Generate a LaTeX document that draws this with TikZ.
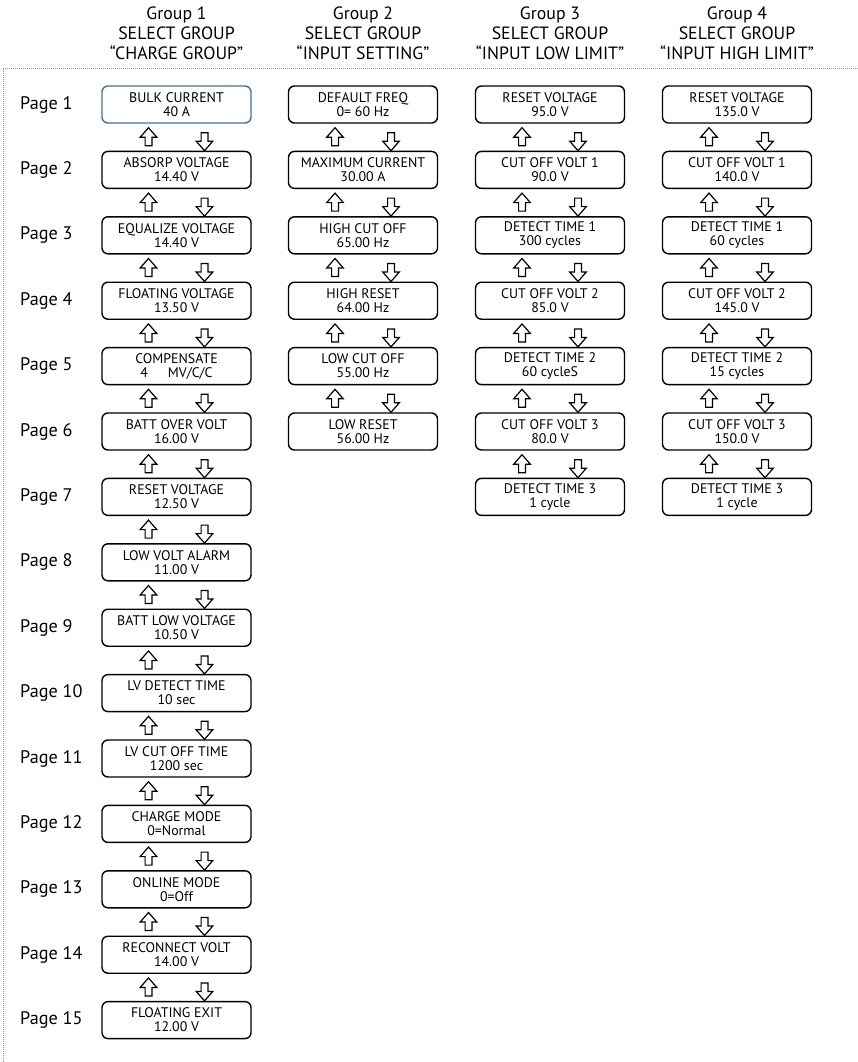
\documentclass[tikz,border=0pt]{standalone}
\usepackage{fontspec}
\setmainfont{PT Sans}
\usetikzlibrary{calc}
\definecolor{firstcolor}{RGB}{70, 110, 160}
\definecolor{framecolor}{RGB}{150, 150, 150}
\tikzset{
	pagebox/.style={
		rectangle, rounded corners=6pt,
		minimum width=149pt, minimum height=37pt, inner sep=0pt,
		align=center, font=\fontsize{13.9}{14}\selectfont,
		draw=black, line width=1.4pt
	},
	pagelabel/.style={
		anchor=west, inner sep=0pt, font=\fontsize{18.2}{20}\selectfont
	},
	grouphead/.style={
		align=center, font=\fontsize{17.8}{20}\selectfont
	},
	pageflip/.style={
		draw=black, line width=1.2pt, fill=white,
		to path={
			let \p1=(\tikztostart.south), \p2=(\tikztotarget.north) in
			% up arrow (left)
			(\x1-31.4pt,\y2+5pt) -- (\x1-31.4pt,\y1-13.5pt) -- (\x1-36.3pt,\y1-13.5pt)
			-- (\x1-28pt,\y1-4pt) -- (\x1-19.7pt,\y1-13.5pt) -- (\x1-24.6pt,\y1-13.5pt)
			-- (\x1-24.6pt,\y2+5pt) -- cycle
			% down arrow (right)
			(\x1+24.6pt,\y1-9pt) -- (\x1+24.6pt,\y2+9.5pt) -- (\x1+19.7pt,\y2+9.5pt)
			-- (\x1+28pt,\y2) -- (\x1+36.3pt,\y2+9.5pt) -- (\x1+31.4pt,\y2+9.5pt)
			-- (\x1+31.4pt,\y1-9pt) -- cycle
		}
	},
	framebox/.style={
		draw=framecolor, line width=0.8pt, dash pattern=on 0.8pt off 1.2pt
	}
}
\begin{document}
\begin{tikzpicture}[x=1pt, y=1pt]
	\useasboundingbox (0,0) rectangle (858,-1062);
	
	%% ═══════════════════════════════
	%%  HEADERS
	%% ═══════════════════════════════
	\node[grouphead] (head1) at (176.5,-33) {Group 1\\SELECT GROUP\\“CHARGE GROUP”};
	\node[grouphead] (head2) at (363,-33)   {Group 2\\SELECT GROUP\\“INPUT SETTING”};
	\node[grouphead] (head3) at (550,-33)   {Group 3\\SELECT GROUP\\“INPUT LOW LIMIT”};
	\node[grouphead] (head4) at (737,-33)   {Group 4\\SELECT GROUP\\“INPUT HIGH LIMIT”};
	
	%% frame
	\coordinate (framebl) at (3,-1062);
	\coordinate (frametr) at (858,-68);
	\draw[framebox] (framebl) |- (frametr);
	
	%% ═══════════════════════════════
	%%  PAGE LABELS
	%% ═══════════════════════════════
	\node[pagelabel] (page1)  at (20,-104.5)  {Page 1};
	\node[pagelabel] (page2)  at (20,-169.9)  {Page 2};
	\node[pagelabel] (page3)  at (20,-235.3)  {Page 3};
	\node[pagelabel] (page4)  at (20,-300.7)  {Page 4};
	\node[pagelabel] (page5)  at (20,-366.1)  {Page 5};
	\node[pagelabel] (page6)  at (20,-431.5)  {Page 6};
	\node[pagelabel] (page7)  at (20,-496.9)  {Page 7};
	\node[pagelabel] (page8)  at (20,-562.3)  {Page 8};
	\node[pagelabel] (page9)  at (20,-627.7)  {Page 9};
	\node[pagelabel] (page10) at (20,-693.1)  {Page 10};
	\node[pagelabel] (page11) at (20,-758.5)  {Page 11};
	\node[pagelabel] (page12) at (20,-823.9)  {Page 12};
	\node[pagelabel] (page13) at (20,-889.3)  {Page 13};
	\node[pagelabel] (page14) at (20,-954.7)  {Page 14};
	\node[pagelabel] (page15) at (20,-1020.1) {Page 15};
	
	%% ═══════════════════════════════
	%%  GROUP 1 — Charge group
	%% ═══════════════════════════════
	\node[pagebox, draw=firstcolor] (bulkcur) at (176.5,-104.5) {BULK CURRENT\\40 A};
	\node[pagebox] (absorp)    at (176.5,-169.9)  {ABSORP VOLTAGE\\14.40 V};
	\node[pagebox] (equalize)  at (176.5,-235.3)  {EQUALIZE VOLTAGE\\14.40 V};
	\node[pagebox] (floatv)    at (176.5,-300.7)  {FLOATING VOLTAGE\\13.50 V};
	\node[pagebox] (compens)   at (176.5,-366.1)  {COMPENSATE\\4\hspace{20pt}MV/C/C};
	\node[pagebox] (battover)  at (176.5,-431.5)  {BATT OVER VOLT\\16.00 V};
	\node[pagebox] (resetv)    at (176.5,-496.9)  {RESET VOLTAGE\\12.50 V};
	\node[pagebox] (lowalarm)  at (176.5,-562.3)  {LOW VOLT ALARM\\11.00 V};
	\node[pagebox] (battlow)   at (176.5,-627.7)  {BATT LOW VOLTAGE\\10.50 V};
	\node[pagebox] (lvdetect)  at (176.5,-693.1)  {LV DETECT TIME\\10 sec};
	\node[pagebox] (lvcutoff)  at (176.5,-758.5)  {LV CUT OFF TIME\\1200 sec};
	\node[pagebox] (chgmode)   at (176.5,-823.9)  {CHARGE MODE\\0=Normal};
	\node[pagebox] (online)    at (176.5,-889.3)  {ONLINE MODE\\0=Off};
	\node[pagebox] (reconnect) at (176.5,-954.7)  {RECONNECT VOLT\\14.00 V};
	\node[pagebox] (floatexit) at (176.5,-1020.1) {FLOATING EXIT\\12.00 V};
	
	%% ═══════════════════════════════
	%%  GROUP 2 — Input setting
	%% ═══════════════════════════════
	\node[pagebox] (deffreq)   at (363,-104.5) {DEFAULT FREQ\\0= 60 Hz};
	\node[pagebox] (maxcur)    at (363,-169.9) {MAXIMUM CURRENT\\30.00 A};
	\node[pagebox] (highcut)   at (363,-235.3) {HIGH CUT OFF\\65.00 Hz};
	\node[pagebox] (highreset) at (363,-300.7) {HIGH RESET\\64.00 Hz};
	\node[pagebox] (lowcut)    at (363,-366.1) {LOW CUT OFF\\55.00 Hz};
	\node[pagebox] (lowreset)  at (363,-431.5) {LOW RESET\\56.00 Hz};
	
	%% ═══════════════════════════════
	%%  GROUP 3 — Input low limit
	%% ═══════════════════════════════
	\node[pagebox] (lreset) at (550,-104.5) {RESET VOLTAGE\\95.0 V};
	\node[pagebox] (lcut1)  at (550,-169.9) {CUT OFF VOLT 1\\90.0 V};
	\node[pagebox] (ldet1)  at (550,-235.3) {DETECT TIME 1\\300 cycles};
	\node[pagebox] (lcut2)  at (550,-300.7) {CUT OFF VOLT 2\\85.0 V};
	\node[pagebox] (ldet2)  at (550,-366.1) {DETECT TIME 2\\60 cycleS};
	\node[pagebox] (lcut3)  at (550,-431.5) {CUT OFF VOLT 3\\80.0 V};
	\node[pagebox] (ldet3)  at (550,-496.9) {DETECT TIME 3\\1 cycle};
	
	%% ═══════════════════════════════
	%%  GROUP 4 — Input high limit
	%% ═══════════════════════════════
	\node[pagebox] (hreset) at (737,-104.5) {RESET VOLTAGE\\135.0 V};
	\node[pagebox] (hcut1)  at (737,-169.9) {CUT OFF VOLT 1\\140.0 V};
	\node[pagebox] (hdet1)  at (737,-235.3) {DETECT TIME 1\\60 cycles};
	\node[pagebox] (hcut2)  at (737,-300.7) {CUT OFF VOLT 2\\145.0 V};
	\node[pagebox] (hdet2)  at (737,-366.1) {DETECT TIME 2\\15 cycles};
	\node[pagebox] (hcut3)  at (737,-431.5) {CUT OFF VOLT 3\\150.0 V};
	\node[pagebox] (hdet3)  at (737,-496.9) {DETECT TIME 3\\1 cycle};
	
	%% ═══════════════════════════════
	%%  ARROWS (up / down between pages)
	%% ═══════════════════════════════
	
	% Group 1
	\draw[pageflip] (bulkcur)   to (absorp);
	\draw[pageflip] (absorp)    to (equalize);
	\draw[pageflip] (equalize)  to (floatv);
	\draw[pageflip] (floatv)    to (compens);
	\draw[pageflip] (compens)   to (battover);
	\draw[pageflip] (battover)  to (resetv);
	\draw[pageflip] (resetv)    to (lowalarm);
	\draw[pageflip] (lowalarm)  to (battlow);
	\draw[pageflip] (battlow)   to (lvdetect);
	\draw[pageflip] (lvdetect)  to (lvcutoff);
	\draw[pageflip] (lvcutoff)  to (chgmode);
	\draw[pageflip] (chgmode)   to (online);
	\draw[pageflip] (online)    to (reconnect);
	\draw[pageflip] (reconnect) to (floatexit);
	
	% Group 2
	\draw[pageflip] (deffreq)   to (maxcur);
	\draw[pageflip] (maxcur)    to (highcut);
	\draw[pageflip] (highcut)   to (highreset);
	\draw[pageflip] (highreset) to (lowcut);
	\draw[pageflip] (lowcut)    to (lowreset);
	
	% Group 3
	\draw[pageflip] (lreset) to (lcut1);
	\draw[pageflip] (lcut1)  to (ldet1);
	\draw[pageflip] (ldet1)  to (lcut2);
	\draw[pageflip] (lcut2)  to (ldet2);
	\draw[pageflip] (ldet2)  to (lcut3);
	\draw[pageflip] (lcut3)  to (ldet3);
	
	% Group 4
	\draw[pageflip] (hreset) to (hcut1);
	\draw[pageflip] (hcut1)  to (hdet1);
	\draw[pageflip] (hdet1)  to (hcut2);
	\draw[pageflip] (hcut2)  to (hdet2);
	\draw[pageflip] (hdet2)  to (hcut3);
	\draw[pageflip] (hcut3)  to (hdet3);
\end{tikzpicture}
\end{document}
